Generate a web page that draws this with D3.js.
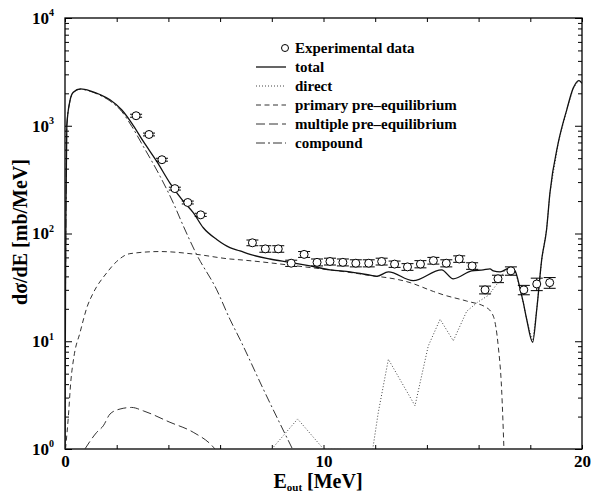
<!DOCTYPE html>
<html>
<head>
<meta charset="utf-8">
<script src="https://cdn.jsdelivr.net/npm/d3@7"></script>
<style>
  body { margin: 0; background: #fff; }
  svg text { font-family: 'Liberation Serif', 'Times New Roman', Times, serif !important; font-weight: bold; fill: #000; }
</style>
</head>
<body>
<svg id="chart" width="591" height="493"></svg>
<script>
'use strict';

// experimental points: energy [MeV], dsigma/dE [mb/MeV], error
const expEnergy = [2.75, 3.25, 3.75, 4.25, 4.75, 5.25,
  7.25, 7.75, 8.25, 8.75, 9.25, 9.75, 10.25, 10.75, 11.25, 11.75, 12.25, 12.75,
  13.25, 13.75, 14.25, 14.75, 15.25, 15.75, 16.25, 16.75, 17.25, 17.75, 18.25, 18.75];
const expValue = [1239, 830, 484, 261, 194, 149,
  82, 72, 72, 53, 64, 54, 55, 54, 53, 53, 55, 52,
  49, 52, 56, 53, 58, 50, 30, 38, 45, 30, 34, 35];
const expError = [40, 25, 15, 8, 6, 5,
  5, 5, 5, 3.5, 4, 4, 4, 4, 4, 4, 4, 3.5,
  3.5, 4, 4, 4, 4, 3.5, 2.5, 3, 4, 3, 4.5, 4];

// calculated curves, [energy, value]
const totalCurve = [[0, 1], [0.02, 30], [0.04, 200], [0.07, 1000], [0.19, 1700], [0.32, 2050],
  [0.6, 2200], [1.0, 2100], [1.35, 1950], [1.74, 1741], [2.19, 1406], [2.58, 1059],
  [3.03, 716], [3.55, 467], [4.06, 294], [4.58, 199], [4.96, 156], [5.35, 113],
  [5.87, 88], [6.38, 74], [6.77, 69], [7.16, 64], [7.93, 58], [8.7, 54], [9.48, 50],
  [10.25, 46], [11.03, 44], [11.8, 41], [12.06, 40], [12.51, 44], [13.47, 36.5],
  [14.57, 46], [15.02, 38], [15.73, 45], [16.18, 46], [16.44, 47], [16.57, 45],
  [16.83, 44], [17.21, 48], [17.41, 45], [17.6, 31], [17.73, 22.8], [17.86, 16],
  [18.09, 9.8], [18.25, 19.8], [18.44, 57], [18.63, 109], [18.76, 238], [19.08, 692],
  [19.41, 1406], [19.66, 2234], [19.88, 2626], [20, 2480]];

const directCurve = [[8.0, 1.0], [9.0, 1.9], [10.0, 1.0],
  [11.9, 0.98], [12.12, 2.19], [12.51, 6.8], [13.54, 2.52], [14.05, 9.0], [14.51, 16],
  [15.02, 10.1], [15.54, 19], [15.96, 23], [16.38, 26.7], [16.7, 33.7], [16.83, 38],
  [17.02, 46], [17.21, 48], [17.41, 45], [17.6, 31], [17.73, 22.8], [17.86, 16],
  [18.09, 9.8], [18.25, 19.8], [18.44, 57], [18.63, 109], [18.76, 238], [19.08, 692],
  [19.41, 1406], [19.66, 2234], [19.88, 2626], [20, 2480]];

const primaryCurve = [[0.02, 1.0], [0.13, 2.0], [0.22, 4.1], [0.35, 7.3], [0.58, 12],
  [0.86, 21], [1.09, 28], [1.61, 43], [2.0, 55], [2.51, 65], [3.68, 68], [5.09, 64],
  [6.38, 58], [6.77, 57], [8.96, 50], [11.54, 41.7], [13.35, 35], [14.25, 29],
  [14.63, 27], [15.54, 23.6], [16.31, 20.5], [16.57, 17.1], [16.76, 9.0],
  [16.89, 3.6], [16.98, 1.0]];

const multipleCurve = [[0.77, 1.0], [1.23, 1.43], [1.48, 1.64], [1.74, 2.11], [2.13, 2.35],
  [2.58, 2.43], [3.03, 2.26], [4.06, 1.77], [4.96, 1.43], [5.74, 1.04], [5.8, 1.0]];

const compoundCurve = [[0, 1], [0.02, 30], [0.04, 200], [0.07, 1000], [0.19, 1680], [0.32, 2030],
  [0.6, 2180], [1.0, 2080], [1.35, 1920], [1.74, 1700], [2.19, 1360], [2.58, 990],
  [3.03, 643], [3.68, 339], [4.19, 192], [4.58, 117], [5.09, 64], [5.87, 30],
  [6.38, 16], [6.77, 10.4], [7.67, 3.6], [8.8, 1.0]];

const seriesNames = ['total', 'direct', 'primary pre\u2013equilibrium',
  'multiple pre\u2013equilibrium', 'compound'];
const expLabel = 'Experimental data';

const xTicks = d3.range(0, 21, 2);
const xLabeled = [0, 10, 20];
const yMajor = [1, 10, 100, 1000, 10000];

const FONT = "'Liberation Serif', 'Times New Roman', Times, serif";

//
// layout
//
const svg = d3.select('#chart').attr('font-family', FONT);
const margin = {top: 18, right: 9, bottom: 44, left: 65};
const W = 591, H = 493;

const x = d3.scaleLinear().domain([0, 20]).range([margin.left, W - margin.right]);
const y = d3.scaleLog().domain([1, 1e4]).range([H - margin.bottom, margin.top]);

const yMinor = [];
for (let d = 1; d < 1e4; d *= 10) {
  for (let k = 2; k < 10; k++) yMinor.push(d * k);
}

svg.append('defs').append('clipPath').attr('id', 'plot-clip')
  .append('rect')
  .attr('x', x(0)).attr('y', y(1e4))
  .attr('width', x(20) - x(0)).attr('height', y(1) - y(1e4));

// axes, ticks pointing inwards
function styleAxis(g) {
  g.attr('font-family', FONT);
  g.select('.domain').remove();
  g.selectAll('.tick line').attr('stroke', '#000').attr('stroke-width', 1);
}

svg.append('g')
  .attr('transform', `translate(0,${y(1)})`)
  .call(d3.axisBottom(x).tickValues(xTicks).tickSize(-4).tickPadding(6)
    .tickFormat(d => xLabeled.includes(d) ? d : ''))
  .call(styleAxis)
  .call(g => g.selectAll('.tick text').attr('font-size', 17));

svg.append('g')
  .attr('transform', `translate(0,${y(1e4)})`)
  .call(d3.axisTop(x).tickValues(xTicks).tickSize(-4).tickFormat(''))
  .call(styleAxis);

const leftMajor = svg.append('g')
  .attr('transform', `translate(${x(0)},0)`)
  .call(d3.axisLeft(y).tickValues(yMajor).tickSize(-7).tickPadding(11).tickFormat(''))
  .call(styleAxis);

leftMajor.selectAll('.tick text')
  .attr('font-size', 17)
  .each(function(d) {
    const t = d3.select(this);
    t.append('tspan').text('10');
    t.append('tspan').attr('font-size', 10).attr('dy', '-0.75em').text(Math.round(Math.log10(d)));
  });

svg.append('g')
  .attr('transform', `translate(${x(0)},0)`)
  .call(d3.axisLeft(y).tickValues(yMinor).tickSize(-4).tickFormat(''))
  .call(styleAxis);

svg.append('g')
  .attr('transform', `translate(${x(20)},0)`)
  .call(d3.axisRight(y).tickValues(yMajor).tickSize(-7).tickFormat(''))
  .call(styleAxis);

svg.append('g')
  .attr('transform', `translate(${x(20)},0)`)
  .call(d3.axisRight(y).tickValues(yMinor).tickSize(-4).tickFormat(''))
  .call(styleAxis);

// frame
svg.append('rect')
  .attr('x', x(0)).attr('y', y(1e4))
  .attr('width', x(20) - x(0)).attr('height', y(1) - y(1e4))
  .attr('fill', 'none').attr('stroke', '#000').attr('stroke-width', 1.3);

//
// curves
//
const lineStyles = [
  {dash: null, width: 1.3, color: '#111'},
  {dash: '1,2', width: 1, color: '#444'},
  {dash: '5,3.5', width: 1, color: '#333'},
  {dash: '9,4', width: 1, color: '#333'},
  {dash: '9,3,2,3', width: 1, color: '#333'}
];
const curves = [totalCurve, directCurve, primaryCurve, multipleCurve, compoundCurve];

const lineGen = d3.line()
  .x(d => x(d[0]))
  .y(d => y(Math.max(d[1], 0.5)));

const plot = svg.append('g').attr('clip-path', 'url(#plot-clip)');

// draw back to front so the total ends on top
[4, 3, 2, 1, 0].forEach(i => {
  lineGen.curve(i === 1 ? d3.curveLinear : d3.curveMonotoneX);
  plot.append('path')
    .attr('d', lineGen(curves[i]))
    .attr('fill', 'none')
    .attr('stroke', lineStyles[i].color)
    .attr('stroke-width', lineStyles[i].width)
    .attr('stroke-dasharray', lineStyles[i].dash);
});

//
// experimental points with error bars
//
const expData = expEnergy.map((e, i) => ({e: e, v: expValue[i], err: expError[i]}));

const pts = plot.selectAll('g.exp')
  .data(expData)
  .join('g')
  .attr('class', 'exp');

pts.append('line')
  .attr('x1', d => x(d.e)).attr('x2', d => x(d.e))
  .attr('y1', d => y(d.v - d.err)).attr('y2', d => y(d.v + d.err))
  .attr('stroke', '#000').attr('stroke-width', 1);

[-1, 1].forEach(s => {
  pts.append('line')
    .attr('x1', d => x(d.e) - 6).attr('x2', d => x(d.e) + 6)
    .attr('y1', d => y(d.v + s * d.err)).attr('y2', d => y(d.v + s * d.err))
    .attr('stroke', '#000').attr('stroke-width', 1);
});

pts.append('circle')
  .attr('cx', d => x(d.e)).attr('cy', d => y(d.v))
  .attr('r', 4)
  .attr('fill', '#fff').attr('stroke', '#000').attr('stroke-width', 1);

//
// legend
//
const legend = svg.append('g').attr('transform', 'translate(256,48)');
const rowH = 19;

legend.append('circle')
  .attr('cx', 29).attr('cy', 0).attr('r', 3.5)
  .attr('fill', '#fff').attr('stroke', '#000').attr('stroke-width', 1);
legend.append('text')
  .attr('x', 39).attr('y', 5).attr('font-size', 15)
  .text(expLabel);

seriesNames.forEach((name, i) => {
  const yy = (i + 1) * rowH;
  legend.append('line')
    .attr('x1', 0).attr('x2', 30).attr('y1', yy).attr('y2', yy)
    .attr('stroke', lineStyles[i].color)
    .attr('stroke-width', lineStyles[i].width)
    .attr('stroke-dasharray', lineStyles[i].dash);
  legend.append('text')
    .attr('x', 39).attr('y', yy + 5).attr('font-size', 15)
    .text(name);
});

//
// axis titles
//
const xTitle = svg.append('text')
  .attr('x', 318).attr('y', 488)
  .attr('text-anchor', 'middle')
  .attr('font-size', 20);
xTitle.append('tspan').text('E');
xTitle.append('tspan').attr('font-size', 11).attr('dy', 2.5).text('out');
xTitle.append('tspan').attr('dy', -2.5).text(' [MeV]');

svg.append('text')
  .attr('transform', 'translate(27,232) rotate(-90)')
  .attr('text-anchor', 'middle')
  .attr('font-size', 20)
  .text('d\u03c3/dE [mb/MeV]');
</script>
</body>
</html>
